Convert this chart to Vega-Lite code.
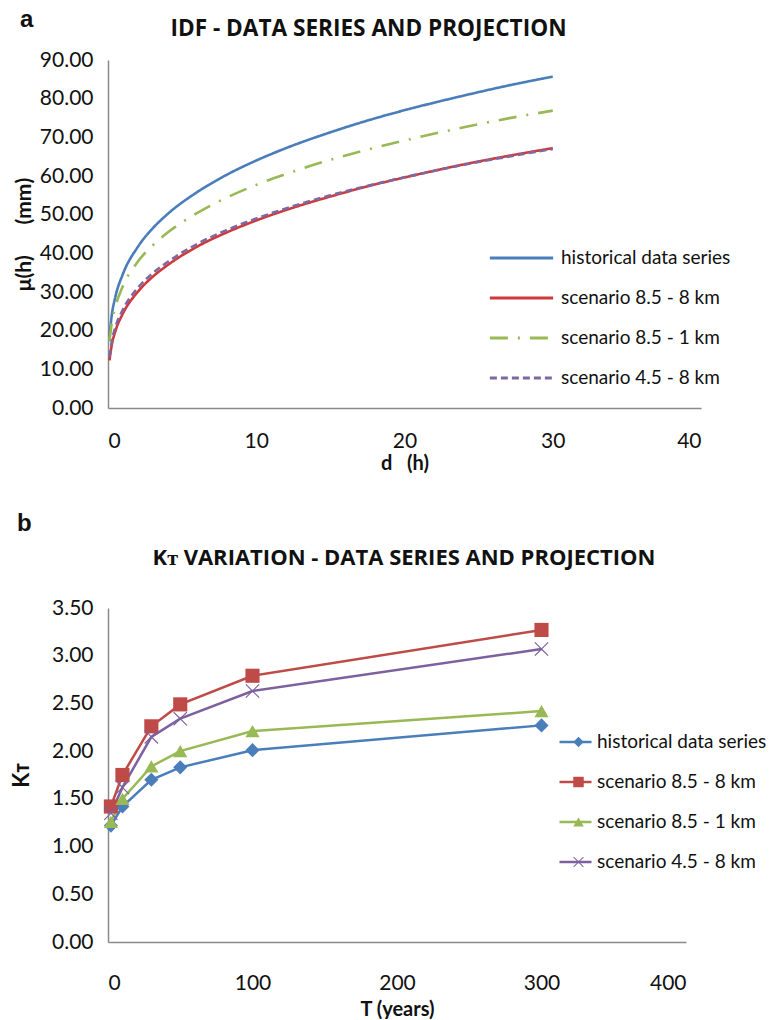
{
  "$schema": "https://vega.github.io/schema/vega-lite/v6.json",
  "padding": {"left": 10, "top": 8, "right": 0, "bottom": 0},
  "spacing": 39,
  "resolve": {
    "scale": {"color": "independent", "strokeDash": "independent", "shape": "independent", "stroke": "independent", "x": "independent", "y": "independent"},
    "legend": {"color": "independent", "strokeDash": "independent", "shape": "independent", "stroke": "independent"}
  },
  "config": {
    "font": "Lato",
    "view": {"stroke": null},
    "axis": {"grid": false, "ticks": false, "domainColor": "#8a8a8a", "domainWidth": 1.5, "labelFontSize": 21, "labelColor": "#111", "labelFont": "Lato", "titleFontSize": 20, "titleFontWeight": "bold", "titleColor": "#111", "labelPadding": 15},
    "legend": {"labelFontSize": 19, "labelColor": "#111", "labelFont": "Lato", "labelLimit": 300, "padding": 0, "clipHeight": 20, "rowPadding": 20},
    "title": {"color": "#111"}
  },
  "datasets": {
    "idf": [
      {"d": 0.1, "mu": 18.7, "s": "historical data series"},
      {"d": 0.25, "mu": 23.9, "s": "historical data series"},
      {"d": 0.5, "mu": 28.8, "s": "historical data series"},
      {"d": 1, "mu": 34.6, "s": "historical data series"},
      {"d": 2, "mu": 41.6, "s": "historical data series"},
      {"d": 3, "mu": 46.4, "s": "historical data series"},
      {"d": 4, "mu": 50.1, "s": "historical data series"},
      {"d": 6, "mu": 55.8, "s": "historical data series"},
      {"d": 8, "mu": 60.3, "s": "historical data series"},
      {"d": 10, "mu": 64.0, "s": "historical data series"},
      {"d": 12, "mu": 67.2, "s": "historical data series"},
      {"d": 15, "mu": 71.3, "s": "historical data series"},
      {"d": 18, "mu": 74.9, "s": "historical data series"},
      {"d": 21, "mu": 78.0, "s": "historical data series"},
      {"d": 24, "mu": 80.8, "s": "historical data series"},
      {"d": 27, "mu": 83.4, "s": "historical data series"},
      {"d": 30, "mu": 85.7, "s": "historical data series"},
      {"d": 0.1, "mu": 12.3, "s": "scenario 8.5 - 8 km"},
      {"d": 0.25, "mu": 16.2, "s": "scenario 8.5 - 8 km"},
      {"d": 0.5, "mu": 19.9, "s": "scenario 8.5 - 8 km"},
      {"d": 1, "mu": 24.4, "s": "scenario 8.5 - 8 km"},
      {"d": 2, "mu": 30.0, "s": "scenario 8.5 - 8 km"},
      {"d": 3, "mu": 33.9, "s": "scenario 8.5 - 8 km"},
      {"d": 4, "mu": 36.9, "s": "scenario 8.5 - 8 km"},
      {"d": 6, "mu": 41.7, "s": "scenario 8.5 - 8 km"},
      {"d": 8, "mu": 45.4, "s": "scenario 8.5 - 8 km"},
      {"d": 10, "mu": 48.5, "s": "scenario 8.5 - 8 km"},
      {"d": 12, "mu": 51.2, "s": "scenario 8.5 - 8 km"},
      {"d": 15, "mu": 54.7, "s": "scenario 8.5 - 8 km"},
      {"d": 18, "mu": 57.8, "s": "scenario 8.5 - 8 km"},
      {"d": 21, "mu": 60.5, "s": "scenario 8.5 - 8 km"},
      {"d": 24, "mu": 63.0, "s": "scenario 8.5 - 8 km"},
      {"d": 27, "mu": 65.2, "s": "scenario 8.5 - 8 km"},
      {"d": 30, "mu": 67.2, "s": "scenario 8.5 - 8 km"},
      {"d": 0.1, "mu": 17.2, "s": "scenario 8.5 - 1 km"},
      {"d": 0.25, "mu": 21.9, "s": "scenario 8.5 - 1 km"},
      {"d": 0.5, "mu": 26.2, "s": "scenario 8.5 - 1 km"},
      {"d": 1, "mu": 31.5, "s": "scenario 8.5 - 1 km"},
      {"d": 2, "mu": 37.8, "s": "scenario 8.5 - 1 km"},
      {"d": 3, "mu": 42.0, "s": "scenario 8.5 - 1 km"},
      {"d": 4, "mu": 45.3, "s": "scenario 8.5 - 1 km"},
      {"d": 6, "mu": 50.4, "s": "scenario 8.5 - 1 km"},
      {"d": 8, "mu": 54.4, "s": "scenario 8.5 - 1 km"},
      {"d": 10, "mu": 57.7, "s": "scenario 8.5 - 1 km"},
      {"d": 12, "mu": 60.5, "s": "scenario 8.5 - 1 km"},
      {"d": 15, "mu": 64.2, "s": "scenario 8.5 - 1 km"},
      {"d": 18, "mu": 67.3, "s": "scenario 8.5 - 1 km"},
      {"d": 21, "mu": 70.1, "s": "scenario 8.5 - 1 km"},
      {"d": 24, "mu": 72.6, "s": "scenario 8.5 - 1 km"},
      {"d": 27, "mu": 74.9, "s": "scenario 8.5 - 1 km"},
      {"d": 30, "mu": 76.9, "s": "scenario 8.5 - 1 km"},
      {"d": 0.1, "mu": 13.2, "s": "scenario 4.5 - 8 km"},
      {"d": 0.25, "mu": 17.1, "s": "scenario 4.5 - 8 km"},
      {"d": 0.5, "mu": 20.9, "s": "scenario 4.5 - 8 km"},
      {"d": 1, "mu": 25.4, "s": "scenario 4.5 - 8 km"},
      {"d": 2, "mu": 31.0, "s": "scenario 4.5 - 8 km"},
      {"d": 3, "mu": 34.8, "s": "scenario 4.5 - 8 km"},
      {"d": 4, "mu": 37.7, "s": "scenario 4.5 - 8 km"},
      {"d": 6, "mu": 42.4, "s": "scenario 4.5 - 8 km"},
      {"d": 8, "mu": 46.0, "s": "scenario 4.5 - 8 km"},
      {"d": 10, "mu": 49.0, "s": "scenario 4.5 - 8 km"},
      {"d": 12, "mu": 51.6, "s": "scenario 4.5 - 8 km"},
      {"d": 15, "mu": 55.0, "s": "scenario 4.5 - 8 km"},
      {"d": 18, "mu": 57.9, "s": "scenario 4.5 - 8 km"},
      {"d": 21, "mu": 60.5, "s": "scenario 4.5 - 8 km"},
      {"d": 24, "mu": 62.9, "s": "scenario 4.5 - 8 km"},
      {"d": 27, "mu": 65.0, "s": "scenario 4.5 - 8 km"},
      {"d": 30, "mu": 67.0, "s": "scenario 4.5 - 8 km"}
    ],
    "kt": [
      {"T": 2, "K": 1.22, "s": "historical data series", "m": "historical data series"},
      {"T": 10, "K": 1.42, "s": "historical data series", "m": "historical data series"},
      {"T": 30, "K": 1.70, "s": "historical data series", "m": "historical data series"},
      {"T": 50, "K": 1.83, "s": "historical data series", "m": "historical data series"},
      {"T": 100, "K": 2.01, "s": "historical data series", "m": "historical data series"},
      {"T": 300, "K": 2.27, "s": "historical data series", "m": "historical data series"},
      {"T": 2, "K": 1.42, "s": "scenario 8.5 - 8 km", "m": "scenario 8.5 - 8 km"},
      {"T": 10, "K": 1.75, "s": "scenario 8.5 - 8 km", "m": "scenario 8.5 - 8 km"},
      {"T": 30, "K": 2.26, "s": "scenario 8.5 - 8 km", "m": "scenario 8.5 - 8 km"},
      {"T": 50, "K": 2.49, "s": "scenario 8.5 - 8 km", "m": "scenario 8.5 - 8 km"},
      {"T": 100, "K": 2.79, "s": "scenario 8.5 - 8 km", "m": "scenario 8.5 - 8 km"},
      {"T": 300, "K": 3.27, "s": "scenario 8.5 - 8 km", "m": "scenario 8.5 - 8 km"},
      {"T": 2, "K": 1.26, "s": "scenario 8.5 - 1 km", "m": "scenario 8.5 - 1 km"},
      {"T": 10, "K": 1.50, "s": "scenario 8.5 - 1 km", "m": "scenario 8.5 - 1 km"},
      {"T": 30, "K": 1.84, "s": "scenario 8.5 - 1 km", "m": "scenario 8.5 - 1 km"},
      {"T": 50, "K": 2.00, "s": "scenario 8.5 - 1 km", "m": "scenario 8.5 - 1 km"},
      {"T": 100, "K": 2.21, "s": "scenario 8.5 - 1 km", "m": "scenario 8.5 - 1 km"},
      {"T": 300, "K": 2.42, "s": "scenario 8.5 - 1 km", "m": "scenario 8.5 - 1 km"},
      {"T": 2, "K": 1.35, "s": "scenario 4.5 - 8 km", "m": "scenario 4.5 - 8 km"},
      {"T": 10, "K": 1.62, "s": "scenario 4.5 - 8 km", "m": "scenario 4.5 - 8 km"},
      {"T": 30, "K": 2.15, "s": "scenario 4.5 - 8 km", "m": "scenario 4.5 - 8 km"},
      {"T": 50, "K": 2.34, "s": "scenario 4.5 - 8 km", "m": "scenario 4.5 - 8 km"},
      {"T": 100, "K": 2.63, "s": "scenario 4.5 - 8 km", "m": "scenario 4.5 - 8 km"},
      {"T": 300, "K": 3.07, "s": "scenario 4.5 - 8 km", "m": "scenario 4.5 - 8 km"}
    ]
  },
  "vconcat": [
    {
      "title": {"text": "a", "anchor": "start", "fontSize": 24, "fontWeight": "bold", "font": "Liberation Sans", "offset": -14, "dx": 7},
      "vconcat": [
        {
          "width": 593,
          "height": 348,
          "title": {"text": "IDF - DATA SERIES AND PROJECTION", "fontSize": 22.6, "fontWeight": "bold", "font": "Open Sans", "dx": -36, "offset": 8},
          "data": {"name": "idf"},
          "mark": {"type": "line", "strokeWidth": 2.6, "interpolate": "monotone"},
          "encoding": {
            "x": {"field": "d", "type": "quantitative", "scale": {"domain": [0, 40]}, "axis": {"values": [0, 10, 20, 30, 40], "title": "d\u00a0\u00a0\u00a0(h)", "labelPadding": 22, "titlePadding": 2}},
            "y": {"field": "mu", "type": "quantitative", "scale": {"domain": [0, 90]}, "axis": {"values": [0, 10, 20, 30, 40, 50, 60, 70, 80, 90], "format": ".2f", "title": "μ(h)\u00a0\u00a0\u00a0\u00a0\u00a0\u00a0(mm)", "titleFontSize": 21, "titleX": -74}},
            "color": {"field": "s", "type": "nominal", "scale": {"domain": ["historical data series", "scenario 8.5 - 8 km", "scenario 8.5 - 1 km", "scenario 4.5 - 8 km"], "range": ["#4A7EBB", "#D0393B", "#98B954", "#7F68A0"]}, "legend": {"title": null, "orient": "none", "legendX": 380, "legendY": 188, "symbolType": "stroke", "symbolSize": 4000, "symbolStrokeWidth": 3, "labelOffset": 6}},
            "strokeDash": {"field": "s", "type": "nominal", "scale": {"domain": ["historical data series", "scenario 8.5 - 8 km", "scenario 8.5 - 1 km", "scenario 4.5 - 8 km"], "range": [[1, 0], [1, 0], [18, 10, 2, 10], [7, 4]]}, "legend": {"title": null, "orient": "none", "legendX": 380, "legendY": 188, "symbolType": "stroke", "symbolSize": 4000, "symbolStrokeWidth": 3, "labelOffset": 6}}
          }
        }
      ]
    },
    {
      "title": {"text": "b", "anchor": "start", "fontSize": 24, "fontWeight": "bold", "font": "Liberation Sans", "offset": 11, "dx": 7},
      "vconcat": [
        {
          "width": 578,
          "height": 334,
          "title": {"text": "Kᴛ VARIATION - DATA SERIES AND PROJECTION", "fontSize": 22, "fontWeight": "bold", "font": "Open Sans", "dx": 7, "offset": 27},
          "data": {"name": "kt"},
          "encoding": {
            "x": {"field": "T", "type": "quantitative", "scale": {"domain": [0, 400]}, "axis": {"values": [0, 100, 200, 300, 400], "title": "T (years)", "labelPadding": 30, "titlePadding": 6}},
            "y": {"field": "K", "type": "quantitative", "scale": {"domain": [0, 3.5]}, "axis": {"values": [0, 0.5, 1, 1.5, 2, 2.5, 3, 3.5], "format": ".2f", "title": "Kᴛ", "titleFontSize": 22, "titleX": -75}}
          },
          "layer": [
            {
              "mark": {"type": "line", "strokeWidth": 2.5},
              "encoding": {
                "stroke": {"field": "s", "type": "nominal", "sort": ["historical data series", "scenario 8.5 - 8 km", "scenario 8.5 - 1 km", "scenario 4.5 - 8 km"], "scale": {"range": ["#4A7EBB", "#BE4B48", "#98B954", "#7D60A0"]}, "legend": {"title": null, "orient": "none", "legendX": 450, "legendY": 124, "symbolType": "stroke", "symbolSize": 1024, "symbolStrokeWidth": 2.5, "labelOffset": 4}}
              }
            },
            {
              "mark": {"type": "point", "filled": true, "size": 200, "opacity": 1},
              "encoding": {
                "color": {"field": "m", "type": "nominal", "scale": {"domain": ["historical data series", "scenario 8.5 - 8 km", "scenario 8.5 - 1 km", "scenario 4.5 - 8 km"], "range": ["#4A7EBB", "#BE4B48", "#98B954", "#7D60A0"]}, "legend": {"title": null, "orient": "none", "legendX": 461, "legendY": 124, "symbolSize": 110, "labelExpr": "''"}},
                "shape": {"field": "m", "type": "nominal", "scale": {"domain": ["historical data series", "scenario 8.5 - 8 km", "scenario 8.5 - 1 km", "scenario 4.5 - 8 km"], "range": ["diamond", "square", "triangle-up", "M-1,-0.88L-0.88,-1L0,-0.12L0.88,-1L1,-0.88L0.12,0L1,0.88L0.88,1L0,0.12L-0.88,1L-1,0.88L-0.12,0Z"]}, "legend": {"title": null, "orient": "none", "legendX": 461, "legendY": 124, "symbolSize": 110, "labelExpr": "''"}}
              }
            }
          ]
        }
      ]
    }
  ]
}
